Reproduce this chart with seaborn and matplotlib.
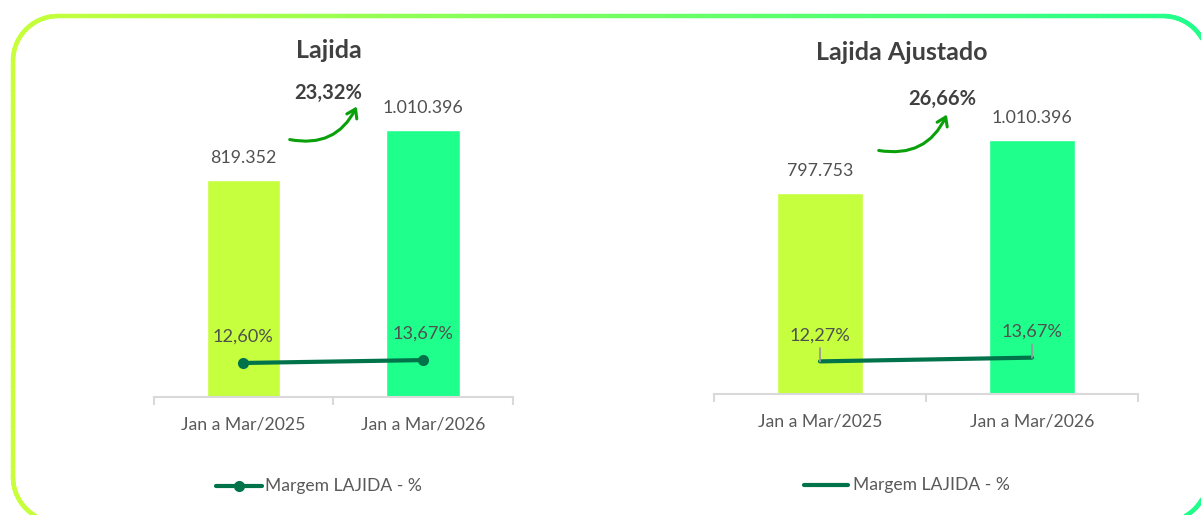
import numpy as np
import pandas as pd
import seaborn as sns
import matplotlib.pyplot as plt
from matplotlib.patches import FancyArrowPatch
from matplotlib.collections import LineCollection
from matplotlib.colors import to_rgb

# data
periods = ["Jan a Mar/2025", "Jan a Mar/2026"]
lajida = [819352, 1010396]
lajida_ajustado = [797753, 1010396]
margem_lajida = [12.60, 13.67]
margem_ajustado = [12.27, 13.67]
var_lajida = "23,32%"
var_ajustado = "26,66%"
legend_label = "Margem LAJIDA - %"

LIME = "#c6ff3e"
MINT = "#1fff8c"
DARK = "#00734a"
ARROW = "#0aa00a"
TXT = "#404040"
VAL = "#505050"

sns.set_theme(style="white")
plt.rcParams["font.family"] = ["Lato", "DejaVu Sans"]

W, H = 1201, 515
fig = plt.figure(figsize=(W / 100, H / 100), dpi=100)


def px_axes(x0, x1, y_top, y_bot):
    return fig.add_axes([x0 / W, 1 - y_bot / H, (x1 - x0) / W, (y_bot - y_top) / H])


def fmt_int(v):
    return f"{v:,}".replace(",", ".")


def fmt_pct(v):
    return f"{v:.2f}".replace(".", ",") + "%"


def draw_panel(box, values, margins, bar_top, pct_top, width, markers, leaders):
    ax = px_axes(*box)
    df = pd.DataFrame({"Periodo": periods, "Valor": values})
    sns.barplot(data=df, x="Periodo", y="Valor", hue="Periodo",
                palette=[LIME, MINT], width=width, saturation=1,
                legend=False, ax=ax)
    ax.set_xlim(-0.5, 1.5)
    ax.set_ylim(0, bar_top)
    ax.set_xlabel("")
    ax.set_ylabel("")
    ax.set_yticks([])
    for s in ["top", "left", "right"]:
        ax.spines[s].set_visible(False)
    ax.spines["bottom"].set_color("#d9d9d9")
    ax.spines["bottom"].set_linewidth(1.5)
    ax.set_xticks([0, 1])
    ax.set_xticklabels(periods, fontsize=12.7, color="#595959")
    ax.tick_params(axis="x", which="major", length=0, pad=14)
    ax.set_xticks([-0.5, 0.5, 1.5], minor=True)
    ax.tick_params(axis="x", which="minor", length=6, width=1.5,
                   color="#d9d9d9", bottom=True)
    for i, v in enumerate(values):
        ax.annotate(fmt_int(v), xy=(i, v), xytext=(0, 22), textcoords="offset pixels",
                    ha="center", va="center", fontsize=12.8, color=VAL)

    ax2 = ax.twinx()
    sns.lineplot(x=np.arange(len(margins)), y=margins, ax=ax2, color=DARK,
                 linewidth=3, marker="o" if markers else None,
                 markersize=8, markeredgewidth=0)
    ax2.set_ylim(0, pct_top)
    ax2.set_xlim(-0.5, 1.5)
    ax2.axis("off")
    for i, m in enumerate(margins):
        props = dict(arrowstyle="-", color="#9a9a9a", lw=1.3,
                     shrinkA=1, shrinkB=0) if leaders else None
        ax2.annotate(fmt_pct(m), xy=(i, m), xytext=(0, 26), textcoords="offset pixels",
                     ha="center", va="center", fontsize=13.1, color=VAL,
                     arrowprops=props)
    return ax


draw_panel((153.5, 513, 60, 397), lajida, margem_lajida, 1275300, 124.8, 0.41, True, False)
draw_panel((714, 1138, 60, 394), lajida_ajustado, margem_ajustado, 1328600, 125.6, 0.405, False, True)


def fx(x):
    return x / W


def fy(y):
    return 1 - y / H


# titles
fig.text(fx(329), fy(50), "Lajida", ha="center", va="center", fontsize=18,
         fontweight="bold", color=TXT)
fig.text(fx(902), fy(53), "Lajida Ajustado", ha="center", va="center", fontsize=18,
         fontweight="bold", color=TXT)

# growth labels and arrows
fig.text(fx(328), fy(93), var_lajida, ha="center", va="center", fontsize=14.5,
         fontweight="bold", color=TXT)
fig.text(fx(942), fy(99), var_ajustado, ha="center", va="center", fontsize=14.5,
         fontweight="bold", color=TXT)
for (x0, y0), (x1, y1) in [((287, 139), (358, 104)), ((876, 150), (948, 112))]:
    fig.patches.append(FancyArrowPatch((fx(x0), fy(y0)), (fx(x1), fy(y1)),
                                       transform=fig.transFigure,
                                       connectionstyle="arc3,rad=0.4",
                                       arrowstyle="->,head_length=6,head_width=4",
                                       color=ARROW, lw=2.2))

# legends
fig.add_artist(plt.Line2D([fx(216), fx(262)], [fy(486), fy(486)], color=DARK, lw=3,
                          transform=fig.transFigure))
fig.add_artist(plt.Line2D([fx(239)], [fy(486)], color=DARK, marker="o", markersize=8,
                          markeredgewidth=0, transform=fig.transFigure))
fig.text(fx(265), fy(486), legend_label, ha="left", va="center", fontsize=12.6, color="#595959")
fig.add_artist(plt.Line2D([fx(804), fx(848)], [fy(485), fy(485)], color=DARK, lw=3,
                          transform=fig.transFigure))
fig.text(fx(853), fy(485), legend_label, ha="left", va="center", fontsize=12.6, color="#595959")

# rounded gradient border
left, right, top, bot, r = 13, 1208, 16, 522, 45
pts = []
for cx, cy, a0 in [(right - r, top + r, -90), (right - r, bot - r, 0),
                   (left + r, bot - r, 90), (left + r, top + r, 180)]:
    ang = np.radians(np.linspace(a0, a0 + 90, 30))
    pts += list(zip(cx + r * np.cos(ang), cy + r * np.sin(ang)))
pts.append(pts[0])
pts = np.array(pts)
dense = []
for p, q in zip(pts[:-1], pts[1:]):
    n = max(2, int(np.hypot(*(q - p)) / 5))
    t = np.linspace(0, 1, n, endpoint=False)[:, None]
    dense.append(p + t * (q - p))
dense = np.vstack(dense + [pts[-1:]])
segs = np.stack([dense[:-1], dense[1:]], axis=1)
c0, c1 = np.array(to_rgb("#c8ff3a")), np.array(to_rgb("#1fff8c"))
tx = ((segs[:, 0, 0] + segs[:, 1, 0]) / 2 - left) / (right - left)
cols = c0[None, :] * (1 - tx[:, None]) + c1[None, :] * tx[:, None]
segs_fig = np.stack([segs[..., 0] / W, 1 - segs[..., 1] / H], axis=-1)
fig.add_artist(LineCollection(segs_fig, colors=cols, linewidths=3.2,
                              transform=fig.transFigure, capstyle="round"))

fig.savefig("out.png", dpi=100)
